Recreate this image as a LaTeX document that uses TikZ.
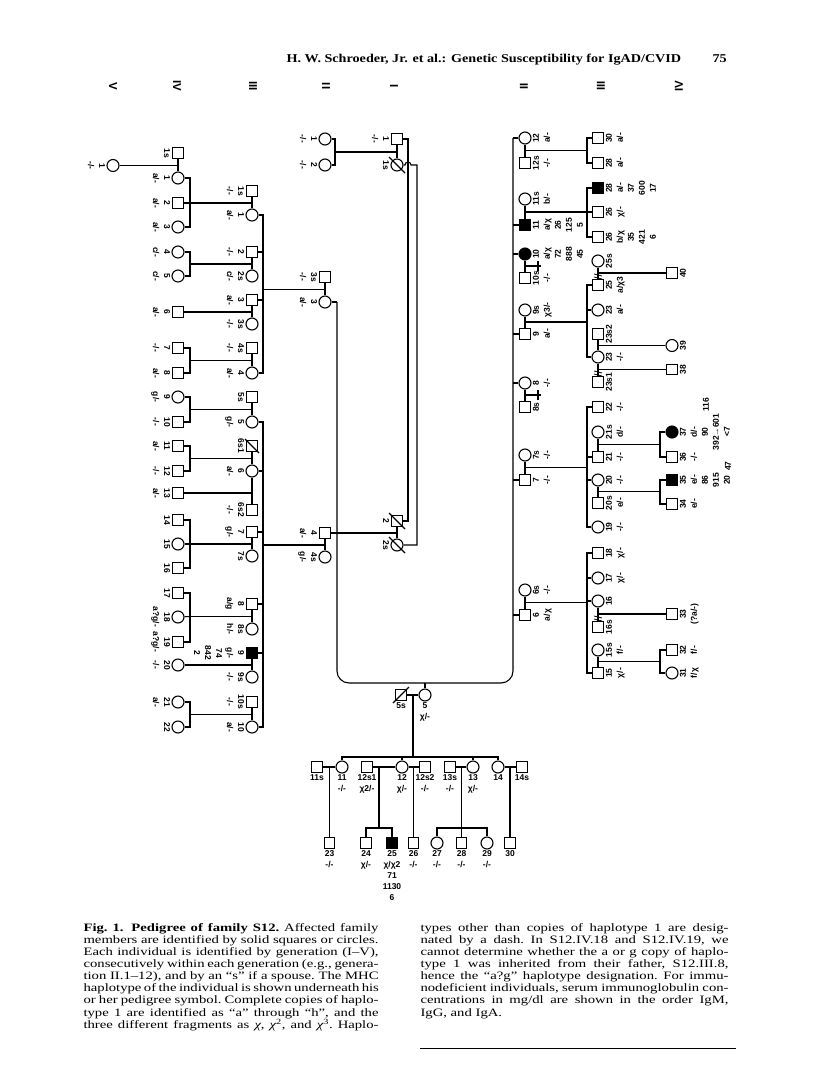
\documentclass[tikz,border=0pt]{standalone}
\usepackage{fontspec}
\setmainfont{Liberation Serif}
\setsansfont{Liberation Sans}
\newfontfamily\capf[FakeStretch=1.3]{Liberation Serif}
\newfontfamily\hdrf[FakeStretch=1.18]{Liberation Serif}
\usetikzlibrary{calc}
\newcommand\SL[5]{\node[#1] (#2) at (#3,#4) {};\node[lbl,rotate=-90] (#2t) at (#3-7.5,#4) {#5};}
\newcommand\SR[5]{\node[#1] (#2) at (#3,#4) {};\node[lbl,rotate=90] (#2t) at (#3+7.5,#4) {#5};}
\newcommand\SB[5]{\node[#1] (#2) at (#3,#4) {};\node[lbl] (#2t) at (#3,#4+7.5) {#5};}
\newcommand\CLa[3]{\node[anchor=base west,inner sep=0pt] (#1) at (83,#2) {\capf\fontsize{11.3}{12}\selectfont\frenchspacing\hbox to 295pt{#3}};}
\newcommand\CLb[3]{\node[anchor=base west,inner sep=0pt] (#1) at (420,#2) {\capf\fontsize{11.3}{12}\selectfont\frenchspacing\hbox to 308pt{#3}};}
\begin{document}
\begin{tikzpicture}[x=1pt,y=-1pt,line width=1.1pt,
  msq/.style={draw,rectangle,minimum size=10.5pt,inner sep=0pt,fill=white},
  fci/.style={draw,circle,minimum size=12pt,inner sep=0pt,fill=white},
  msqA/.style={msq,fill=black},
  fciA/.style={fci,fill=black},
  lbl/.style={anchor=north,inner sep=0pt,align=center,font=\sffamily\bfseries\fontsize{8.5}{11}\selectfont},
  rom/.style={inner sep=0pt,font=\sffamily\bfseries\fontsize{11.5}{11.5}\selectfont},
  slash/.style={line width=1.1pt},
  dv/.style={line width=0.8pt}]
\fill[white] (0,0) rectangle (816,1088);
\useasboundingbox (0,0) rectangle (816,1088);

% header
\node[anchor=base west,inner sep=0pt] (hdr) at (286,62) {\hdrf\bfseries\fontsize{12}{14}\selectfont H. W. Schroeder, Jr. et al.: Genetic Susceptibility for IgAD/CVID};
\node[anchor=base west,inner sep=0pt] (pgn) at (712,62) {\hdrf\bfseries\fontsize{12}{14}\selectfont 75};

% generation numerals
\node[rom,rotate=-90] (gL5) at (113,86) {V};
\node[rom,rotate=-90] (gL4) at (177,86) {IV};
\node[rom,rotate=-90] (gL3) at (253,86) {III};
\node[rom,rotate=-90] (gL2) at (326,86) {II};
\node[rom,rotate=-90] (gL1) at (394,86) {I};
\node[rom,rotate=90] (gR2) at (524,86) {II};
\node[rom,rotate=90] (gR3) at (601,86) {III};
\node[rom,rotate=90] (gR4) at (679,86) {IV};

% ---------- generation I ----------
\SL{msq}{iA}{397}{139}{1\\-/-}
\SL{fci}{iAs}{397}{165}{1s}
\SL{msq}{iB}{397}{521}{2}
\SL{fci}{iBs}{397}{545}{2s}
\draw[slash] ($(iAs)+(-8,-8)$) -- ($(iAs)+(8,8)$);
\draw[slash] ($(iB)+(-8,-8)$) -- ($(iB)+(8,8)$);
\draw[slash] ($(iBs)+(-8,-8)$) -- ($(iBs)+(8,8)$);
\draw (iA) -- (iAs);
\draw (iB) -- (iBs);
\coordinate (xSq) at (408,0);
\coordinate (xCi) at (417,0);
\draw (iA.east) -- (iA.east -| xSq) -- (iB.east -| xSq) -- (iB.east);
\coordinate (hop) at (405,165);
\draw (iAs.east) -- (hop) arc[start angle=180,end angle=360,radius=3] -- (iAs.east -| xCi) -- (iBs.east -| xCi) -- (iBs.east);

% ---------- generation II left ----------
\SL{fci}{iiA}{325}{139}{1\\-/-}
\SL{fci}{iiB}{325}{165}{2\\-/-}
\SL{msq}{iiCs}{325}{277}{3s\\-/-}
\SL{fci}{iiC}{325}{302}{3\\a/-}
\SL{msq}{iiD}{325}{533}{4\\a/-}
\SL{fci}{iiDs}{325}{557}{4s\\g/-}
\coordinate (jI1) at (335,152);
\draw (iiA.east) -| (jI1);
\draw (iiB.east) -| (jI1);
\draw (jI1) -- ($(iA)!.5!(iAs)$);
\draw (iiCs) -- (iiC);
\draw (iiD) -- (iiDs);
\coordinate (Ul) at (337,683);
\coordinate (Ur) at (513,683);
\draw (iiC.east) -- (iiC.east -| Ul);
\draw (iiD.east) -- ($(iB)!.5!(iBs)$);

% ---------- generation II right ----------
\SR{fci}{rA}{525}{138}{12\\a/-}
\SR{msq}{rAs}{525}{163}{12s\\-/-}
\SR{fci}{rBs}{525}{199}{11s\\b/-}
\SR{msqA}{rB}{525}{225}{11\\a/χ\\26\\125\\5}
\SR{fciA}{rC}{525}{254}{10\\a/χ\\72\\888\\45}
\SR{msq}{rCs}{525}{278}{10s\\-/-}
\SR{fci}{rDs}{525}{310}{9s\\χ3/-}
\SR{msq}{rD}{525}{334}{9\\a/-}
\SR{fci}{rE}{525}{383}{8\\-/-}
\SR{msq}{rEs}{525}{407}{8s}
\SR{fci}{rFs}{525}{455}{7s\\-/-}
\SR{msq}{rF}{525}{480}{7\\-/-}
\SR{fci}{rGs}{525}{590}{6s\\-/-}
\SR{msq}{rG}{525}{615}{6\\a/χ}
\draw[rounded corners=12pt] (iiC.east -| Ul) -- (Ul) -- (Ur) -- (rA.west -| Ur);
\draw (rA.west) -- (rA.west -| Ur);
\draw (rB.west) -- (rB.west -| Ur);
\draw (rC.west) -- (rC.west -| Ur);
\draw (rD.west) -- (rD.west -| Ur);
\draw (rE.west) -- (rE.west -| Ur);
\draw (rF.west) -- (rF.west -| Ur);
\draw (rG.west) -- (rG.west -| Ur);
\draw (rA) -- (rAs);
\draw (rBs) -- (rB);
\draw (rC) -- (rCs);
\draw (rDs) -- (rD);
\draw (rE) -- (rEs);
\draw (rFs) -- (rF);
\draw (rGs) -- (rG);
\coordinate (nA) at (541,266);
\draw ($(rC)!.5!(rCs)$) -- (nA);
\draw ($(nA)+(-3,-5)$) -- ($(nA)+(-3,5)$);
\coordinate (nB) at (541,395);
\draw ($(rE)!.5!(rEs)$) -- (nB);
\draw ($(nB)+(-3,-5)$) -- ($(nB)+(-3,5)$);

% ---------- generation II: individual 5 and her family ----------
\SB{fci}{iiE}{425}{695}{5\\χ/-}
\SB{msq}{iiEs}{401}{695}{5s}
\draw[slash] ($(iiEs)+(-8,8)$) -- ($(iiEs)+(8,-8)$);
\draw (iiE) -- (iiE |- Ul);
\draw (iiEs) -- (iiE);
\coordinate (jB) at (413,757);
\draw ($(iiEs)!.5!(iiE)$) -- (jB);

\SB{msq}{bAs}{317}{767}{11s}
\SB{fci}{bA}{342}{767}{11\\-/-}
\SB{msq}{bBa}{367}{767}{12s1\\χ2/-}
\SB{fci}{bB}{402}{767}{12\\χ/-}
\SB{msq}{bBb}{425}{767}{12s2\\-/-}
\SB{msq}{bCs}{450}{767}{13s\\-/-}
\SB{fci}{bC}{473}{767}{13\\χ/-}
\SB{fci}{bD}{498}{767}{14}
\SB{msq}{bDs}{522}{767}{14s}
\draw (bA.north) |- (jB);
\draw (bD.north) |- (jB);
\draw (bB.north) -- (bB.north |- jB);
\draw (bC.north) -- (bC.north |- jB);
\draw (bAs) -- (bA);
\draw (bBa) -- (bB);
\draw (bB) -- (bBb);
\draw (bCs) -- (bC);
\draw (bD) -- (bDs);

\SB{msq}{b23}{329.5}{843}{23\\-/-}
\SB{msq}{b24}{366}{843}{24\\χ/-}
\SB{msqA}{b25}{392}{843}{25\\χ/χ2\\71\\1130\\6}
\SB{msq}{b26}{413.5}{843}{26\\-/-}
\SB{fci}{b27}{437}{843}{27\\-/-}
\SB{msq}{b28}{461.5}{843}{28\\-/-}
\SB{fci}{b29}{487}{843}{29\\-/-}
\SB{msq}{b30}{510}{843}{30}
\draw ($(bAs)!.5!(bA)$) -- (b23);
\coordinate (jb12) at (379,828);
\draw (jb12) -- (jb12 |- bB);
\draw (b24.north) |- (jb12);
\draw (b25.north) |- (jb12);
\draw ($(bB)!.5!(bBb)$) -- (b26);
\coordinate (jb13) at (461.5,828);
\draw ($(bCs)!.5!(bC)$) -- (jb13);
\draw (b27.north) |- (jb13);
\draw (b29.north) |- (jb13);
\draw (b28) -- (jb13);
\draw ($(bD)!.5!(bDs)$) -- (b30);

% ---------- generation III left ----------
\SL{msq}{iiiAs}{252}{191}{1s\\-/-}
\SL{fci}{iiiA}{252}{215}{1\\a/-}
\SL{msq}{iiiB}{252}{252}{2\\-/-}
\SL{fci}{iiiBs}{252}{276}{2s\\c/-}
\SL{msq}{iiiC}{252}{300}{3\\a/-}
\SL{fci}{iiiCs}{252}{324}{3s\\-/-}
\SL{msq}{iiiDs}{252}{348}{4s\\-/-}
\SL{fci}{iiiD}{252}{373}{4\\a/-}
\SL{msq}{iiiEs}{252}{397}{5s}
\SL{fci}{iiiE}{252}{422}{5\\g/-}
\SL{msq}{iiiFa}{252}{446}{6s1}
\SL{fci}{iiiF}{252}{471}{6\\a/-}
\SL{msq}{iiiFb}{252}{510}{6s2\\-/-}
\SL{msq}{iiiG}{252}{532}{7\\g/-}
\SL{fci}{iiiGs}{252}{556}{7s}
\SL{msq}{iiiH}{252}{604}{8\\a/g}
\SL{fci}{iiiHs}{252}{629}{8s\\h/-}
\SL{msqA}{iiiI}{252}{653}{9\\g/-\\74\\842\\2}
\SL{fci}{iiiIs}{252}{677}{9s\\-/-}
\SL{msq}{iiiJs}{252}{702}{10s\\-/-}
\SL{fci}{iiiJ}{252}{727}{10\\a/-}
\draw[slash] ($(iiiFa)+(-7,-7)$) -- ($(iiiFa)+(7,7)$);
\coordinate (jIIa) at (263,289.5);
\draw (jIIa) -- ($(iiCs)!.5!(iiC)$);
\draw (iiiA.east) -| (jIIa);
\draw (iiiD.east) -| (jIIa);
\draw (iiiB.east) -- (iiiB.east -| jIIa);
\draw (iiiC.east) -- (iiiC.east -| jIIa);
\coordinate (jIIb) at (263,545);
\draw (jIIb) -- ($(iiD)!.5!(iiDs)$);
\draw (iiiE.east) -| (jIIb);
\draw (iiiJ.east) -| (jIIb);
\draw (iiiF.east) -- (iiiF.east -| jIIb);
\draw (iiiG.east) -- (iiiG.east -| jIIb);
\draw (iiiH.east) -- (iiiH.east -| jIIb);
\draw (iiiI.east) -- (iiiI.east -| jIIb);
\draw (iiiAs) -- (iiiA);
\draw (iiiB) -- (iiiBs);
\draw (iiiC) -- (iiiCs);
\draw (iiiDs) -- (iiiD);
\draw (iiiEs) -- (iiiE);
\draw (iiiFa) -- (iiiF);
\draw (iiiF) -- (iiiFb);
\draw (iiiG) -- (iiiGs);
\draw (iiiH) -- (iiiHs);
\draw (iiiI) -- (iiiIs);
\draw (iiiJs) -- (iiiJ);

% ---------- generation IV and V left ----------
\SL{fci}{v1}{113}{165.5}{1\\-/-}
\SL{msq}{ivAs}{178}{153}{1s}
\SL{fci}{ivA}{178}{178}{1\\a/-}
\SL{msq}{ivB}{178}{203}{2\\a/-}
\SL{fci}{ivC}{178}{227}{3\\a/-}
\SL{fci}{ivD}{178}{252}{4\\c/-}
\SL{fci}{ivE}{178}{276}{5\\c/-}
\SL{msq}{ivF}{178}{312}{6\\a/-}
\SL{msq}{ivG}{178}{348}{7\\-/-}
\SL{msq}{ivH}{178}{373}{8\\a/-}
\SL{fci}{ivI}{178}{397}{9\\g/-}
\SL{msq}{ivJ}{178}{422}{10\\-/-}
\SL{msq}{ivK}{178}{446}{11\\a/-}
\SL{msq}{ivL}{178}{471}{12\\-/-}
\SL{msq}{ivM}{178}{493}{13\\a/-}
\SL{msq}{ivN}{178}{520}{14}
\SL{fci}{ivO}{178}{544}{15}
\SL{msq}{ivP}{178}{568}{16}
\SL{msq}{ivQ}{178}{593}{17}
\SL{fci}{ivR}{178}{617}{18\\a?g/-}
\SL{msq}{ivS}{178}{642}{19\\a?g/-}
\SL{fci}{ivT}{178}{665}{20\\-/-}
\SL{fci}{ivU}{178}{702}{21\\a/-}
\SL{fci}{ivV}{178}{727}{22}
\draw (ivAs) -- (ivA);
\draw ($(ivAs)!.5!(ivA)$) -- (v1);
\coordinate (jIIIa) at (190,203);
\draw (jIIIa) -- ($(iiiAs)!.5!(iiiA)$);
\draw (ivA.east) -| (jIIIa);
\draw (ivC.east) -| (jIIIa);
\draw (ivB) -- (jIIIa);
\coordinate (jIIIb) at (190,264);
\draw (jIIIb) -- ($(iiiB)!.5!(iiiBs)$);
\draw (ivD.east) -| (jIIIb);
\draw (ivE.east) -| (jIIIb);
\draw (ivF) -- ($(iiiC)!.5!(iiiCs)$);
\coordinate (jIIId) at (190,360.5);
\draw (jIIId) -- ($(iiiDs)!.5!(iiiD)$);
\draw (ivG.east) -| (jIIId);
\draw (ivH.east) -| (jIIId);
\coordinate (jIIIe) at (190,409.5);
\draw (jIIIe) -- ($(iiiEs)!.5!(iiiE)$);
\draw (ivI.east) -| (jIIIe);
\draw (ivJ.east) -| (jIIIe);
\coordinate (jIIIf) at (190,458.5);
\draw (jIIIf) -- ($(iiiFa)!.5!(iiiF)$);
\draw (ivK.east) -| (jIIIf);
\draw (ivL.east) -| (jIIIf);
\draw (ivM.east) -- (ivM.east -| iiiF.center);
\coordinate (jIIIg) at (190,544);
\draw (jIIIg) -- ($(iiiG)!.5!(iiiGs)$);
\draw (ivN.east) -| (jIIIg);
\draw (ivP.east) -| (jIIIg);
\draw (ivO) -- (jIIIg);
\coordinate (jIIIh) at (190,616.5);
\draw (jIIIh) -- ($(iiiH)!.5!(iiiHs)$);
\draw (ivQ.east) -| (jIIIh);
\draw (ivS.east) -| (jIIIh);
\draw (ivR) -- (jIIIh);
\draw (ivT) -- ($(iiiI)!.5!(iiiIs)$);
\coordinate (jIIIj) at (190,714.5);
\draw (jIIIj) -- ($(iiiJs)!.5!(iiiJ)$);
\draw (ivU.east) -| (jIIIj);
\draw (ivV.east) -| (jIIIj);

% ---------- generation III right ----------
\SR{msq}{r3a}{598}{138}{30\\a/-}
\SR{msq}{r3b}{598}{163}{28\\a/-}
\SR{msqA}{r3c}{598}{188}{28\\a/-\\37\\600\\17}
\SR{msq}{r3d}{598}{212}{26\\χ/-}
\SR{msq}{r3e}{598}{237}{26\\b/χ\\35\\421\\6}
\SR{fci}{r3fs}{598}{261}{25s}
\SR{msq}{r3f}{598}{285}{25\\a/χ3}
\SR{fci}{r3g}{598}{310}{23\\a/-}
\SR{msq}{r3hb}{598}{334}{23s2}
\SR{fci}{r3h}{598}{357}{23\\-/-}
\SR{msq}{r3ha}{598}{382}{23s1}
\SR{msq}{r3i}{598}{407}{22\\-/-}
\SR{fci}{r3js}{598}{432}{21s\\d/-}
\SR{msq}{r3j}{598}{457}{21\\-/-}
\SR{fci}{r3k}{598}{480}{20\\-/-}
\SR{msq}{r3ks}{598}{503}{20s\\e/-}
\SR{fci}{r3l}{598}{527}{19\\-/-}
\SR{msq}{r3m}{598}{553}{18\\χ/-}
\SR{fci}{r3n}{598}{578}{17\\χ/-}
\SR{fci}{r3o}{598}{601}{16}
\SR{msq}{r3os}{598}{627}{16s}
\SR{fci}{r3ps}{598}{650}{15s\\f/-}
\SR{msq}{r3p}{598}{673}{15\\χ/-}
\coordinate (jR12) at (587,150.5);
\draw ($(rA)!.5!(rAs)$) -- (jR12);
\draw (r3a.west) -| (jR12);
\draw (r3b.west) -| (jR12);
\coordinate (jR11) at (587,212);
\draw ($(rBs)!.5!(rB)$) -- (jR11);
\draw (r3c.west) -| (jR11);
\draw (r3e.west) -| (jR11);
\draw (r3d) -- (jR11);
\coordinate (jR9) at (587,322);
\draw ($(rDs)!.5!(rD)$) -- (jR9);
\draw (r3f.west) -| (jR9);
\draw (r3h.west) -| (jR9);
\draw (r3g.west) -- (r3g.west -| jR9);
\coordinate (jR7) at (587,467.5);
\draw ($(rFs)!.5!(rF)$) -- (jR7);
\draw (r3i.west) -| (jR7);
\draw (r3l.west) -| (jR7);
\draw (r3j.west) -- (r3j.west -| jR7);
\draw (r3k.west) -- (r3k.west -| jR7);
\coordinate (jR6) at (587,602.5);
\draw ($(rGs)!.5!(rG)$) -- (jR6);
\draw (r3m.west) -| (jR6);
\draw (r3p.west) -| (jR6);
\draw (r3n.west) -- (r3n.west -| jR6);
\draw (r3o.west) -- (r3o.west -| jR6);
\draw (r3fs) -- (r3f);
\draw (r3hb) -- (r3h);
\draw (r3h) -- (r3ha);
\draw (r3js) -- (r3j);
\draw (r3k) -- (r3ks);
\draw (r3o) -- (r3os);
\draw (r3ps) -- (r3p);
\draw[dv] ($(r3f)+(-4,-11)$) -- ($(r3f)+(4,-9)$);
\draw[dv] ($(r3f)+(-4,-8)$) -- ($(r3f)+(4,-6)$);
\draw[dv] ($(r3ha)+(-4,-11)$) -- ($(r3ha)+(4,-9)$);
\draw[dv] ($(r3ha)+(-4,-8)$) -- ($(r3ha)+(4,-6)$);
\draw[dv] ($(r3os)+(-4,-11)$) -- ($(r3os)+(4,-9)$);
\draw[dv] ($(r3os)+(-4,-8)$) -- ($(r3os)+(4,-6)$);

% ---------- generation IV right ----------
\SR{msq}{r4a}{672}{273}{40}
\SR{fci}{r4b}{672}{345.5}{39}
\SR{msq}{r4c}{672}{369.5}{38}
\SR{fciA}{r4d}{672}{432}{37\\d/-\\90\\392→601\\<7}
\SR{msq}{r4e}{672}{457}{36\\-/-}
\SR{msqA}{r4f}{672}{480}{35\\e/-\\86\\915\\20}
\SR{msq}{r4g}{672}{504}{34\\e/-}
\SR{msq}{r4h}{672}{614}{33\\(?a/-)}
\SR{msq}{r4i}{672}{650}{32\\f/-}
\SR{fci}{r4j}{672}{673}{31\\f/χ}
\node[lbl,anchor=center,rotate=90] (t116) at (706,405) {116};
\node[lbl,anchor=center,rotate=90] (t47) at (728,466) {47};
\draw ($(r3fs)!.5!(r3f)$) -- (r4a);
\draw ($(r3hb)!.5!(r3h)$) -- (r4b);
\draw ($(r3h)!.5!(r3ha)$) -- (r4c);
\coordinate (jR21) at (660,444.5);
\draw ($(r3js)!.5!(r3j)$) -- (jR21);
\draw (r4d.west) -| (jR21);
\draw (r4e.west) -| (jR21);
\coordinate (jR20) at (660,491.5);
\draw ($(r3k)!.5!(r3ks)$) -- (jR20);
\draw (r4f.west) -| (jR20);
\draw (r4g.west) -| (jR20);
\draw ($(r3o)!.5!(r3os)$) -- (r4h);
\coordinate (jR15) at (660,661.5);
\draw ($(r3ps)!.5!(r3p)$) -- (jR15);
\draw (r4i.west) -| (jR15);
\draw (r4j.west) -| (jR15);

% ---------- caption ----------
\CLa{ca1}{931}{{\bfseries Fig. 1.\hspace{0.7em}Pedigree of family S12.} Affected family}
\CLa{ca2}{943.2}{members are identified by solid squares or circles.}
\CLa{ca3}{955.3}{Each individual is identified by generation (I–V),}
\CLa{ca4}{967.5}{consecutively within each generation (e.g., genera-}
\CLa{ca5}{979.6}{tion II.1–12), and by an “s” if a spouse. The MHC}
\CLa{ca6}{991.8}{haplotype of the individual is shown underneath his}
\CLa{ca7}{1003.9}{or her pedigree symbol. Complete copies of haplo-}
\CLa{ca8}{1016.1}{type 1 are identified as “a” through “h”, and the}
\CLa{ca9}{1028.2}{three different fragments as {\itshape χ}, {\itshape χ}\textsuperscript{2}, and {\itshape χ}\textsuperscript{3}. Haplo-}
\CLb{cb1}{931}{types other than copies of haplotype 1 are desig-}
\CLb{cb2}{943.2}{nated by a dash. In S12.IV.18 and S12.IV.19, we}
\CLb{cb3}{955.3}{cannot determine whether the a or g copy of haplo-}
\CLb{cb4}{967.5}{type 1 was inherited from their father, S12.III.8,}
\CLb{cb5}{979.6}{hence the “a?g” haplotype designation. For immu-}
\CLb{cb6}{991.8}{nodeficient individuals, serum immunoglobulin con-}
\CLb{cb7}{1003.9}{centrations in mg/dl are shown in the order IgM,}
\node[anchor=base west,inner sep=0pt] (cb8) at (420,1016.1) {\capf\fontsize{11.3}{12}\selectfont IgG, and IgA.};
\draw[line width=0.9pt] (420,1048) -- (736,1048);
\end{tikzpicture}
\end{document}
